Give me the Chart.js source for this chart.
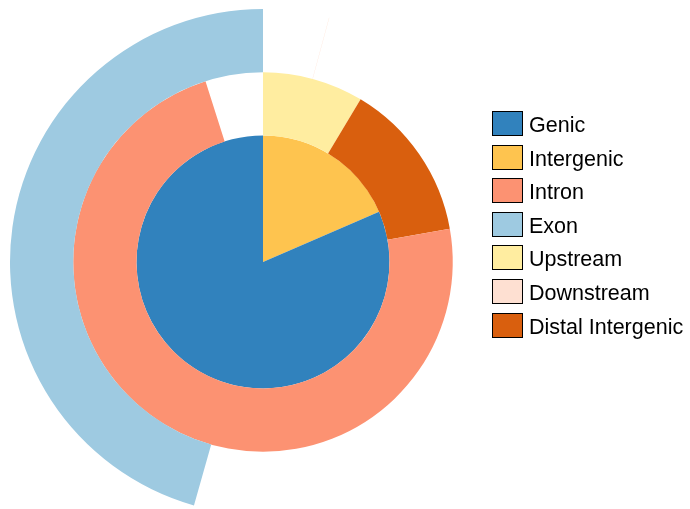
<!DOCTYPE html>
<html>
<head>
<meta charset="utf-8">
<script src="https://cdn.jsdelivr.net/npm/chart.js@4/dist/chart.umd.min.js"></script>
<style>
    html, body { margin: 0; padding: 0; background: #fff; overflow: hidden; }
    #wrap { position: relative; width: 690px; height: 509px; }
    #annoChart { position: absolute; left: 0; top: 0; }
    #legend { position: absolute; left: 492px; top: 111px; font-family: "Liberation Sans", Arial, Helvetica, sans-serif; font-size: 21.5px; color: #000; }
    .item { height: 33.6px; display: flex; align-items: flex-start; }
    .box { width: 31px; height: 25px; box-sizing: border-box; border: 1px solid #000; }
    .txt { margin-left: 6px; line-height: 25px; position: relative; top: 2px; white-space: nowrap; }
</style>
</head>
<body>
<div id="wrap">
    <canvas id="annoChart" width="690" height="509"></canvas>
    <div id="legend"></div>
</div>
<script>
// legend entries
const legendLabels = ["Genic", "Intergenic", "Intron", "Exon", "Upstream", "Downstream", "Distal Intergenic"];
const legendColors = ["#3182bd", "#fec44f", "#fc9272", "#9ecae1", "#ffeda0", "#fee0d2", "#d95f0e"];

// rings, clockwise from 12 o'clock, values in percent
const innerLabels = ["Intergenic", "Genic"];
const innerValues = [18.5, 81.5];

const middleLabels = ["Upstream", "Distal Intergenic", "Intron", ""];
const middleValues = [8.6, 13.6, 72.9, 4.9];

const outerLabels = ["", "Downstream", "", "Exon"];
const outerValues = [4.2, 0.02, 50.18, 45.6];

function colorFor(label) {
    const i = legendLabels.indexOf(label);
    return i < 0 ? "rgba(0,0,0,0)" : legendColors[i];
}

function ring(labels, values, weight) {
    const colors = labels.map(colorFor);
    return {
        data: values,
        labels: labels,
        backgroundColor: colors,
        borderColor: colors,
        borderWidth: 0,
        weight: weight,
        clip: false,
    };
}

const ctx = document.getElementById("annoChart").getContext("2d");
new Chart(ctx, {
    type: "doughnut",
    data: {
        labels: legendLabels,
        datasets: [
            ring(outerLabels, outerValues, 1),
            ring(middleLabels, middleValues, 1),
            ring(innerLabels, innerValues, 2),
        ],
    },
    options: {
        responsive: false,
        animation: false,
        events: [],
        cutout: 0,
        radius: 253,
        layout: {
            padding: { left: 0, right: 164, top: 15, bottom: 0 },
        },
        plugins: {
            legend: { display: false },
            tooltip: { enabled: false },
        },
    },
});

// simple html legend
const legendEl = document.getElementById("legend");
legendLabels.forEach((label, i) => {
    const row = document.createElement("div");
    row.className = "item";
    const box = document.createElement("div");
    box.className = "box";
    box.style.background = legendColors[i];
    const txt = document.createElement("span");
    txt.className = "txt";
    txt.textContent = label;
    row.appendChild(box);
    row.appendChild(txt);
    legendEl.appendChild(row);
});
</script>
</body>
</html>
